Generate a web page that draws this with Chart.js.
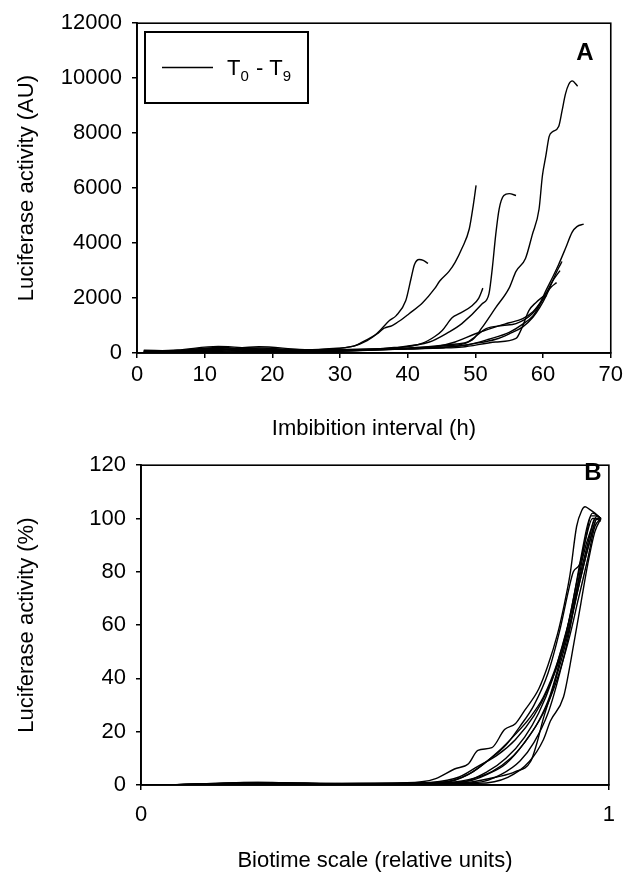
<!DOCTYPE html>
<html>
<head>
<meta charset="utf-8">
<title>Luciferase activity during imbibition</title>
<script src="https://cdn.jsdelivr.net/npm/chart.js@4/dist/chart.umd.min.js"></script>
<style>
  html, body { margin: 0; padding: 0; background: #fff; }
  body { width: 627px; height: 874px; position: relative; overflow: hidden; }
  #wrapA { position: absolute; left: 0; top: 0; width: 627px; height: 442px; }
  #wrapB { position: absolute; left: 0; top: 442px; width: 627px; height: 432px; }
</style>
</head>
<body>
<div id="wrapA"><canvas id="chartA" width="627" height="442"></canvas></div>
<div id="wrapB"><canvas id="chartB" width="627" height="432"></canvas></div>
<script>
// ---- Panel A: luciferase activity (AU) against imbibition time (h), seeds T0–T9 ----
const hoursT0 = [1, 6, 12, 18, 24, 28, 32, 33, 35.4, 37.3, 38.3, 39.7, 40.5, 41, 41.7, 42.3, 43];
const lucT0   = [40, 60, 150, 120, 90, 140, 250, 360, 700, 1180, 1360, 1900, 2720, 3220, 3400, 3370, 3260];
const hoursT1 = [1, 6, 12, 18, 24, 28, 32, 34, 35.5, 36.5, 37.7, 39, 40.2, 42.2, 44, 44.7, 46.1, 47, 48, 49.1, 49.7, 50.1];
const lucT1   = [80, 50, 120, 180, 110, 150, 250, 450, 700, 900, 1000, 1200, 1430, 1830, 2350, 2610, 2970, 3300, 3800, 4520, 5400, 6100];
const hoursT2 = [1, 6, 12, 18, 24, 30, 38, 42.2, 44, 45.1, 46.6, 47.6, 49.5, 50.5, 51.1];
const lucT2   = [20, 80, 200, 100, 60, 110, 180, 358, 600, 820, 1290, 1430, 1720, 2000, 2360];
const hoursT3 = [1, 6, 12, 18, 24, 30, 38, 43.2, 46, 48, 51, 52, 52.5, 53, 53.5, 54.2, 55, 56];
const lucT3   = [60, 40, 100, 230, 130, 90, 200, 400, 750, 1070, 1790, 2150, 3090, 4300, 5230, 5730, 5800, 5730];
const hoursT4 = [1, 6, 12, 18, 24, 30, 40, 46, 49.5, 51, 53, 55, 56, 57.4, 58.4, 59.4, 59.9, 60.4, 60.9, 61.4, 62.3, 62.8, 63.3, 63.8, 64.3, 65.1];
const lucT4   = [30, 90, 170, 60, 100, 130, 180, 300, 470, 930, 1650, 2370, 2970, 3440, 4300, 5230, 6450, 7160, 7880, 8050, 8240, 8810, 9420, 9780, 9900, 9710];
const hoursT5 = [1, 6, 12, 18, 24, 30, 40, 45, 48.6, 50, 51.6, 54, 56, 58.4, 59.5, 60.4, 61.5, 62.3, 63.3, 64.3, 65, 66];
const lucT5   = [100, 70, 60, 140, 70, 100, 170, 250, 358, 600, 890, 1000, 1070, 1430, 1800, 2260, 2800, 3220, 3800, 4400, 4600, 4690];
const hoursT6 = [1, 6, 12, 18, 24, 30, 40, 45, 48, 53, 56, 56.9, 57.9, 59, 60.4, 61.2, 62];
const lucT6   = [10, 30, 80, 40, 50, 70, 150, 180, 215, 400, 530, 930, 1540, 1850, 2150, 2400, 2560];
const hoursT7 = [1, 6, 12, 18, 24, 30, 40, 46, 50, 53, 55, 57, 58.5, 59.5, 60.5, 61.4, 62.3, 62.8];
const lucT7   = [50, 110, 240, 150, 120, 80, 160, 220, 350, 500, 700, 950, 1300, 1650, 2100, 2620, 3100, 3330];
const hoursT8 = [1, 6, 12, 18, 24, 30, 40, 45, 49, 52, 55, 57, 58.5, 59.4, 60.4, 61.5, 62.5];
const lucT8   = [20, 40, 30, 60, 20, 60, 150, 200, 300, 500, 750, 1050, 1350, 1700, 2150, 2650, 3000];
const hoursT9 = [1, 6, 12, 18, 24, 30, 40, 44, 47, 50, 53, 55, 57, 58.5, 59.5, 60.5];
const lucT9   = [70, 60, 130, 90, 80, 120, 150, 220, 400, 700, 950, 1100, 1250, 1500, 1800, 2100];

// ---- Panel B: activity as % of final value against biotime (relative units) ----
const bioT0 = [0.05, 0.15, 0.22, 0.28, 0.35, 0.5, 0.6, 0.63, 0.67, 0.7, 0.72, 0.75, 0.777, 0.8, 0.82, 0.85, 0.87, 0.89, 0.905, 0.917, 0.931, 0.942, 0.949, 0.958, 0.97, 0.983];
const pctT0 = [0, 0.3, 1, 1, 0.2, 0.5, 1.2, 2.4, 6, 8, 13, 14, 20.8, 23, 28, 36, 45, 56.5, 68, 79, 97, 103, 104.4, 103.5, 102, 100];
const bioT1 = [0.05, 0.2, 0.3, 0.5, 0.6, 0.65, 0.7, 0.74, 0.78, 0.81, 0.84, 0.87, 0.895, 0.915, 0.924, 0.938, 0.95, 0.965, 0.983];
const pctT1 = [0, 0.5, 0.8, 0.4, 0.8, 1, 4, 9, 15, 22, 30, 42, 58, 74, 80, 83, 92, 100, 100];
const bioT2 = [0.05, 0.3, 0.5, 0.62, 0.68, 0.72, 0.76, 0.8, 0.84, 0.87, 0.9, 0.92, 0.94, 0.96, 0.975, 0.983];
const pctT2 = [0, 0.6, 0.4, 1, 3, 7, 11, 17, 26, 36, 50, 63, 78, 92, 100, 100];
const bioT3 = [0.05, 0.25, 0.45, 0.6, 0.7, 0.74, 0.78, 0.82, 0.86, 0.89, 0.915, 0.935, 0.955, 0.97, 0.983];
const pctT3 = [0, 0.8, 0.3, 0.6, 1.5, 4, 8, 16, 27, 40, 55, 70, 85, 97, 100];
const bioT4 = [0.05, 0.25, 0.5, 0.65, 0.72, 0.784, 0.83, 0.86, 0.875, 0.903, 0.917, 0.924, 0.94, 0.955, 0.97, 0.983];
const pctT4 = [0, 0.6, 0.3, 0.5, 0.6, 2.9, 8.8, 17, 24, 33, 45, 52, 68, 83, 95, 100];
const bioT5 = [0.05, 0.3, 0.5, 0.65, 0.7, 0.76, 0.8, 0.833, 0.845, 0.86, 0.88, 0.9, 0.92, 0.94, 0.96, 0.975, 0.983];
const pctT5 = [0, 0.7, 0.2, 0.6, 1, 3, 5, 8.9, 15, 25, 36, 48, 62, 78, 92, 100, 100];
const bioT6 = [0.05, 0.2, 0.4, 0.6, 0.68, 0.74, 0.78, 0.82, 0.85, 0.88, 0.9, 0.92, 0.94, 0.96, 0.97, 0.983];
const pctT6 = [0, 0.4, 0.6, 0.8, 1, 5, 10, 18, 27, 40, 52, 65, 80, 94, 100, 99];
const bioT7 = [0.05, 0.25, 0.45, 0.6, 0.66, 0.71, 0.76, 0.8, 0.83, 0.86, 0.89, 0.91, 0.93, 0.95, 0.962, 0.975, 0.983];
const pctT7 = [0, 1, 0.3, 0.8, 1.5, 5, 12, 19, 25, 33, 46, 58, 75, 92, 101, 101, 100];
const bioT8 = [0.05, 0.3, 0.5, 0.64, 0.7, 0.75, 0.79, 0.82, 0.85, 0.875, 0.9, 0.92, 0.94, 0.955, 0.965, 0.983];
const pctT8 = [0, 0.5, 0.4, 0.7, 2, 5, 10, 16, 24, 34, 50, 66, 85, 98, 102, 100];
const bioT9 = [0.05, 0.22, 0.4, 0.6, 0.72, 0.77, 0.81, 0.84, 0.87, 0.895, 0.915, 0.93, 0.945, 0.96, 0.975, 0.983];
const pctT9 = [0, 0.8, 0.5, 0.6, 1, 4, 9, 16, 27, 42, 57, 72, 86, 95, 101, 100];

// ---- Axis ticks, titles and labels ----
const xTicksA = [0, 10, 20, 30, 40, 50, 60, 70];
const yTicksA = [0, 2000, 4000, 6000, 8000, 10000, 12000];
const xTicksB = [0, 1];
const yTicksB = [0, 20, 40, 60, 80, 100, 120];
const xTitleA = 'Imbibition interval (h)';
const yTitleA = 'Luciferase activity (AU)';
const xTitleB = 'Biotime scale (relative units)';
const yTitleB = 'Luciferase activity (%)';
const seriesNames = ['T0', 'T1', 'T2', 'T3', 'T4', 'T5', 'T6', 'T7', 'T8', 'T9'];
const legendFirst = 'T0';
const legendLast = 'T9';

const seriesA = [
  [hoursT0, lucT0], [hoursT1, lucT1], [hoursT2, lucT2], [hoursT3, lucT3], [hoursT4, lucT4],
  [hoursT5, lucT5], [hoursT6, lucT6], [hoursT7, lucT7], [hoursT8, lucT8], [hoursT9, lucT9]
];
const seriesB = [
  [bioT0, pctT0], [bioT1, pctT1], [bioT2, pctT2], [bioT3, pctT3], [bioT4, pctT4],
  [bioT5, pctT5], [bioT6, pctT6], [bioT7, pctT7], [bioT8, pctT8], [bioT9, pctT9]
];

const FONT_FAMILY = "'Liberation Sans', Arial, Helvetica, sans-serif";
const INK = '#000';

function toDatasets(series) {
  return series.map(([xs, ys], i) => ({
    label: seriesNames[i],
    data: xs.map((x, k) => ({ x: x, y: ys[k] })),
    showLine: true,
    borderColor: INK,
    borderWidth: 1.4,
    pointRadius: 0,
    cubicInterpolationMode: 'monotone',
    tension: 0.3,
    fill: false
  }));
}

function axis(opts) {
  return {
    type: 'linear',
    min: opts.min,
    max: opts.max,
    afterBuildTicks: s => { s.ticks = opts.ticks.map(v => ({ value: v })); },
    afterFit: s => {
      if (opts.width !== undefined) s.width = opts.width;
      if (opts.height !== undefined) s.height = opts.height;
    },
    border: { display: true, color: INK, width: 1.8 },
    grid: { display: true, drawOnChartArea: false, drawTicks: true, tickLength: 5, color: INK, lineWidth: 1.5 },
    ticks: {
      color: INK,
      padding: opts.padding,
      maxRotation: 0,
      autoSkip: false,
      font: { family: FONT_FAMILY, size: 22 },
      callback: v => String(v)
    },
    title: {
      display: true,
      text: opts.title,
      color: INK,
      font: { family: FONT_FAMILY, size: 22, lineHeight: 1 },
      padding: opts.titlePadding
    }
  };
}

// Plot frame (all four edges) plus the panel letter
const framePlugin = {
  id: 'frame',
  afterDraw(chart, args, o) {
    const { ctx, chartArea: a } = chart;
    ctx.save();
    ctx.strokeStyle = INK;
    ctx.lineWidth = 1.6;
    ctx.strokeRect(a.left, a.top, a.right - a.left, a.bottom - a.top);
    ctx.fillStyle = INK;
    ctx.font = 'bold 24px ' + FONT_FAMILY;
    ctx.textAlign = 'center';
    ctx.textBaseline = 'middle';
    ctx.fillText(o.letter, o.lx, o.ly);
    ctx.restore();
  }
};

// Single boxed legend entry standing for all ten seeds, with subscript indices
const boxLegendPlugin = {
  id: 'boxLegend',
  afterDraw(chart, args, o) {
    if (!o.show) return;
    const { ctx } = chart;
    ctx.save();
    ctx.strokeStyle = INK;
    ctx.lineWidth = 2;
    ctx.strokeRect(o.x, o.y, o.w, o.h);
    const midY = o.y + o.h / 2;
    ctx.lineWidth = 1.5;
    ctx.beginPath();
    ctx.moveTo(o.x + 17, midY);
    ctx.lineTo(o.x + 68, midY);
    ctx.stroke();
    ctx.fillStyle = INK;
    ctx.textBaseline = 'alphabetic';
    ctx.textAlign = 'left';
    const big = '22px ' + FONT_FAMILY;
    const small = '15px ' + FONT_FAMILY;
    const base = midY + 7;
    let x = o.x + 82;
    const parts = [
      [legendFirst.charAt(0), big, 0], [legendFirst.slice(1), small, 6],
      [' - ', big, 0],
      [legendLast.charAt(0), big, 0], [legendLast.slice(1), small, 6]
    ];
    parts.forEach(([t, f, dy]) => {
      ctx.font = f;
      ctx.fillText(t, x, base + dy);
      x += ctx.measureText(t).width + (dy ? 1 : 0);
    });
    ctx.restore();
  }
};

Chart.register(framePlugin, boxLegendPlugin);

new Chart(document.getElementById('chartA'), {
  type: 'scatter',
  data: { datasets: toDatasets(seriesA) },
  options: {
    responsive: false,
    animation: false,
    devicePixelRatio: 1,
    layout: { padding: { top: 18, right: 15, left: 0, bottom: 0 } },
    scales: {
      x: axis({ min: 0, max: 70, ticks: xTicksA, height: 89, padding: 4, title: xTitleA, titlePadding: { bottom: 2 } }),
      y: axis({ min: 0, max: 12000, ticks: yTicksA, width: 137, padding: 10, title: yTitleA, titlePadding: { top: 16 } })
    },
    plugins: {
      legend: { display: false },
      tooltip: { enabled: false },
      frame: { letter: 'A', lx: 585, ly: 53 },
      boxLegend: { show: true, x: 145, y: 32, w: 163, h: 71 }
    }
  }
});

new Chart(document.getElementById('chartB'), {
  type: 'scatter',
  data: { datasets: toDatasets(seriesB) },
  options: {
    responsive: false,
    animation: false,
    devicePixelRatio: 1,
    layout: { padding: { top: 7, right: 11, left: 0, bottom: 0 } },
    scales: {
      x: axis({ min: 0, max: 1, ticks: xTicksB, height: 89, padding: 12, title: xTitleB, titlePadding: { bottom: 2 } }),
      y: axis({ min: 0, max: 120, ticks: yTicksB, width: 141, padding: 10, title: yTitleB, titlePadding: { top: 16 } })
    },
    plugins: {
      legend: { display: false },
      tooltip: { enabled: false },
      frame: { letter: 'B', lx: 593, ly: 31 },
      boxLegend: { show: false }
    }
  }
});
</script>
</body>
</html>
